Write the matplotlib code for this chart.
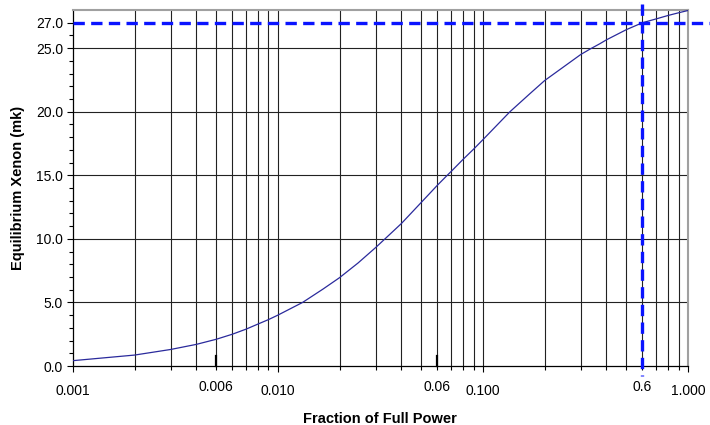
import numpy as np
import matplotlib
matplotlib.use("Agg")
import matplotlib.pyplot as plt
from matplotlib.ticker import FixedLocator, NullFormatter
import matplotlib.transforms as mtransforms

# values
power = [0.001, 0.002, 0.003, 0.004, 0.005, 0.006, 0.007, 0.008, 0.009, 0.01,
         0.0132, 0.0166, 0.02, 0.0246, 0.03, 0.0333, 0.04, 0.05, 0.06, 0.067,
         0.07, 0.08, 0.09, 0.1, 0.1355, 0.169, 0.2, 0.3, 0.335, 0.372, 0.4,
         0.5, 0.6, 0.7, 0.8, 0.9, 1.0]
xenon = [0.42, 0.86, 1.3, 1.7, 2.1, 2.5, 2.9, 3.3, 3.65, 4.0,
         5.0, 6.05, 6.95, 8.1, 9.32, 10.0, 11.2, 12.86, 14.22, 15.0,
         15.3, 16.25, 17.05, 17.8, 20.0, 21.4, 22.45, 24.5, 24.95, 25.35, 25.65,
         26.45, 27.0, 27.3, 27.57, 27.78, 27.96]

y_ticks = [0, 5, 10, 15, 20, 25, 27]
y_grid = [5, 10, 15, 20, 25]
x_major = [0.001, 0.01, 0.1, 1.0]
x_minor = [m * d for d in (0.001, 0.01, 0.1) for m in range(2, 10)]

# marked points on the x axis (label text, position as drawn)
mark_pos = [0.005, 0.06]
mark_lbl = ["0.006", "0.06"]
op_power = 0.6
op_xenon = 27.0

plt.rcParams['font.family'] = ['Liberation Sans', 'DejaVu Sans']

fig = plt.figure(figsize=(7.1, 4.25), dpi=100)
ax = fig.add_axes([0.1025, 0.1388, 0.8665, 0.8377])

ax.set_xscale('log')
ax.set_xlim(0.001, 1.0)
ax.set_ylim(0, 28)

# grid
for xv in x_minor + x_major[1:-1]:
    ax.axvline(xv, color='#222222', lw=0.8, zorder=1)
for yv in y_grid:
    ax.axhline(yv, color='#222222', lw=0.8, zorder=1)

ax.plot(power, xenon, color='#2a2a9c', lw=0.9, zorder=3)

# ticks
ax.xaxis.set_major_locator(FixedLocator(x_major))
ax.xaxis.set_minor_locator(FixedLocator(x_minor))
ax.xaxis.set_minor_formatter(NullFormatter())
ax.set_xticklabels(['%.3f' % v for v in x_major])
ax.yaxis.set_major_locator(FixedLocator(y_ticks))
ax.yaxis.set_minor_locator(FixedLocator(np.arange(0, 28, 1)))
ax.set_yticklabels(['%.1f' % v for v in y_ticks])
ax.tick_params(axis='both', which='major', direction='out', length=4,
               width=0.8, labelsize=10, pad=3)
ax.tick_params(axis='both', which='minor', direction='out', length=3, width=0.8)
ax.tick_params(axis='x', which='major', pad=9)

for side in ['top', 'right']:
    ax.spines[side].set_color('#a0a0a0')
    ax.spines[side].set_linewidth(1.5)
for side in ['left', 'bottom']:
    ax.spines[side].set_linewidth(0.9)

# marked points on x axis
blend = mtransforms.blended_transform_factory(ax.transData, ax.transAxes)
for p, lbl in zip(mark_pos, mark_lbl):
    ax.plot([p, p], [0, 0.027], color='black', lw=1.6, transform=blend,
            clip_on=False, zorder=4)
for p, lbl in zip(mark_pos + [op_power], mark_lbl + ["0.6"]):
    ax.text(p, -0.038, lbl, transform=blend, ha='center', va='top', fontsize=10)

# operating point dashed lines, running past the plot frame
fig_x = mtransforms.blended_transform_factory(fig.transFigure, ax.transData)
fig_y = mtransforms.blended_transform_factory(ax.transData, fig.transFigure)
x0 = ax.get_position().x0
ax.plot([x0, 1.0], [op_xenon, op_xenon], color='#0a14ff', lw=2.4,
        dashes=(3.4, 1.9), transform=fig_x, clip_on=False, zorder=5)
ax.plot([op_power, op_power], [0.99, 0.115], color='#0a14ff', lw=2.4,
        dashes=(3.4, 1.9), transform=fig_y, clip_on=False, zorder=5)

ax.set_xlabel('Fraction of Full Power', fontsize=10.5, fontweight='bold',
              labelpad=10)
ax.set_ylabel('Equilibrium Xenon (mk)', fontsize=10.5, fontweight='bold',
              labelpad=8)

fig.savefig('out.png', dpi=100)
